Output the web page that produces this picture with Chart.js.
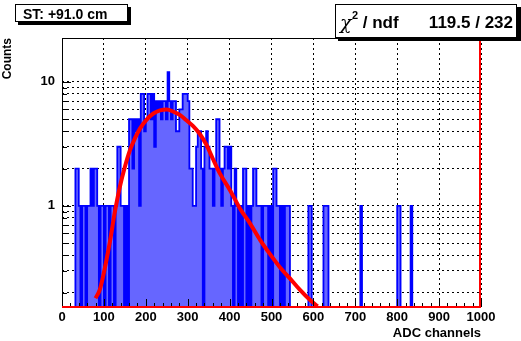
<!DOCTYPE html>
<html>
<head>
<meta charset="utf-8">
<script src="https://cdn.jsdelivr.net/npm/chart.js@4/dist/chart.umd.min.js"></script>
<style>
  html, body { margin: 0; padding: 0; background: #fff; }
</style>
</head>
<body>
<canvas id="c" width="521" height="341"></canvas>
<script>
// histogram: 250 bins of 4 ADC channels, 0..1000
const binWidth = 4;
const counts = [
  0, 0, 0, 0, 0, 0, 0, 0, 2, 2,
  1, 0, 1, 1, 0, 1, 1, 2, 1, 2,
  2, 1, 0, 1, 1, 0, 1, 1, 0, 1,
  1, 0, 1, 3, 3, 1, 1, 0, 1, 0,
  5, 5, 2, 5, 4, 5, 1, 8, 8, 4,
  5, 8, 8, 5, 8, 3, 7, 6, 7, 5,
  7, 7, 5, 12, 7, 5, 7, 7, 4, 4,
  6, 6, 8, 8, 8, 7, 2, 2, 1, 1,
  3, 4, 4, 2, 0, 3, 4, 3, 2, 2,
  1, 2, 5, 5, 2, 1, 2, 3, 3, 2,
  3, 1, 0, 2, 1, 0, 1, 0, 2, 2,
  0, 1, 0, 1, 2, 2, 1, 1, 1, 0,
  1, 1, 1, 0, 1, 0, 2, 2, 1, 1,
  0, 1, 0, 1, 1, 1, 0, 0, 0, 0,
  0, 0, 0, 0, 0, 0, 0, 1, 1, 0,
  0, 0, 0, 0, 0, 0, 1, 1, 1, 0,
  0, 0, 0, 0, 0, 0, 0, 0, 0, 0,
  0, 0, 0, 0, 0, 0, 0, 0, 1, 0,
  0, 0, 0, 0, 0, 0, 0, 0, 0, 0,
  0, 0, 0, 0, 0, 0, 0, 0, 0, 0,
  1, 1, 0, 0, 0, 0, 0, 0, 1, 0,
  0, 0, 0, 0, 0, 0, 0, 0, 0, 0,
  0, 0, 0, 0, 0, 0, 0, 0, 0, 0,
  0, 0, 0, 0, 0, 0, 0, 0, 0, 0,
  0, 0, 0, 0, 0, 0, 0, 0, 0, 0
];

// fitted curve
const fitX = [80, 90, 100, 115, 125, 138, 150, 162, 174, 186, 202, 218, 234, 250, 266, 282, 297, 313, 329, 345, 360, 377, 401, 425, 449, 473, 496, 520, 544, 568, 592, 610];
const fitY = [0.18, 0.21, 0.29, 0.53, 0.85, 1.42, 2.06, 2.8, 3.5, 4.2, 4.97, 5.56, 5.9, 6.0, 5.75, 5.4, 4.9, 4.4, 3.8, 3.1, 2.4, 1.82, 1.34, 0.95, 0.72, 0.53, 0.41, 0.32, 0.26, 0.21, 0.174, 0.155];

const xTickValues = [0, 100, 200, 300, 400, 500, 600, 700, 800, 900, 1000];
const yGridValues = [0.2, 0.3, 0.4, 0.5, 0.6, 0.7, 0.8, 0.9, 1, 2, 3, 4, 5, 6, 7, 8, 9, 10];
const yLabelValues = [1, 10];
const yMin = 0.153, yMax = 22.6;

const statLabel = "ST: +91.0 cm";
const chi2Value = "119.5 / 232";

// empty bins can't sit on a log axis, drop them just under the frame
const histPoints = counts.map((c, i) => ({ x: i * binWidth, y: c > 0 ? c : yMin * 0.8 }));
histPoints.push({ x: counts.length * binWidth, y: histPoints[histPoints.length - 1].y });
const fitPoints = fitX.map((x, i) => ({ x: x, y: fitY[i] }));

const boldFont = "'Liberation Sans', Arial, sans-serif";

const rootFrame = {
  id: "rootFrame",
  afterDraw(chart) {
    const ctx = chart.ctx;
    const a = chart.chartArea;
    const xs = chart.scales.x, ys = chart.scales.y;
    ctx.save();
    // tick marks inside the frame
    ctx.strokeStyle = "#000";
    ctx.lineWidth = 1;
    ctx.beginPath();
    for (let v = 0; v <= 1000; v += 20) {
      const px = Math.round(xs.getPixelForValue(v)) + 0.5;
      const len = v % 100 === 0 ? 8 : 4;
      ctx.moveTo(px, a.bottom);
      ctx.lineTo(px, a.bottom - len);
    }
    yGridValues.forEach(v => {
      const py = Math.round(ys.getPixelForValue(v)) + 0.5;
      const len = yLabelValues.includes(v) ? 9 : 5;
      ctx.moveTo(a.left, py);
      ctx.lineTo(a.left + len, py);
    });
    ctx.stroke();
    // frame
    ctx.beginPath();
    ctx.moveTo(a.left + 0.5, a.bottom);
    ctx.lineTo(a.left + 0.5, a.top + 0.5);
    ctx.lineTo(a.right, a.top + 0.5);
    ctx.stroke();
    ctx.strokeStyle = "#ff0000";
    ctx.lineWidth = 2;
    ctx.beginPath();
    ctx.moveTo(a.left, a.bottom);
    ctx.lineTo(a.right - 1, a.bottom);
    ctx.lineTo(a.right - 1, a.top);
    ctx.stroke();

    // stat boxes
    ctx.fillStyle = "#000";
    ctx.fillRect(18, 7, 113, 18);
    ctx.fillStyle = "#fff";
    ctx.fillRect(15, 4, 113, 18);
    ctx.strokeStyle = "#000";
    ctx.lineWidth = 1;
    ctx.strokeRect(15.5, 4.5, 112, 17);
    ctx.fillStyle = "#000";
    ctx.font = "bold 14px " + boldFont;
    ctx.textBaseline = "alphabetic";
    ctx.textAlign = "left";
    ctx.fillText(statLabel, 23, 19);

    ctx.fillStyle = "#000";
    ctx.fillRect(338, 7, 183, 34);
    ctx.fillStyle = "#fff";
    ctx.fillRect(335, 4, 182, 34);
    ctx.strokeRect(335.5, 4.5, 181, 33);
    ctx.fillStyle = "#000";
    ctx.font = "italic 19px 'DejaVu Serif', 'Liberation Serif', serif";
    ctx.fillText("\u03c7", 340, 29);
    ctx.font = "bold 11px " + boldFont;
    ctx.fillText("2", 352, 19);
    ctx.font = "bold 17px " + boldFont;
    ctx.fillText(" / ndf", 358, 28);
    ctx.textAlign = "right";
    ctx.fillText(chi2Value, 513, 28);
    ctx.restore();
  }
};

new Chart(document.getElementById("c"), {
  type: "line",
  data: {
    datasets: [
      {
        label: "fit",
        data: fitPoints,
        borderColor: "#ff0000",
        borderWidth: 4,
        pointRadius: 0,
        tension: 0.4,
        cubicInterpolationMode: "monotone",
        fill: false,
        order: 0
      },
      {
        label: "hist",
        data: histPoints,
        stepped: true,
        borderColor: "#0000ff",
        borderWidth: 1.8,
        backgroundColor: "#6666ff",
        pointRadius: 0,
        fill: "start",
        order: 1
      }
    ]
  },
  options: {
    responsive: false,
    animation: false,
    devicePixelRatio: 1,
    layout: { padding: { left: 0, right: 40, top: 38, bottom: 0 } },
    plugins: { legend: { display: false }, tooltip: { enabled: false } },
    scales: {
      x: {
        type: "linear",
        min: 0,
        max: 1000,
        afterBuildTicks: s => { s.ticks = xTickValues.map(v => ({ value: v })); },
        afterFit: s => { s.height = 34; },
        ticks: { autoSkip: false, maxRotation: 0, padding: 3, color: "#000", font: { family: boldFont, size: 13, weight: "bold" }, callback: v => String(v) },
        grid: { color: "#000", lineWidth: 1, drawTicks: false },
        border: { display: false, dash: [2, 3] },
        title: { display: true, text: "ADC channels", align: "end", color: "#000", padding: 0, font: { family: boldFont, size: 13, weight: "bold" } }
      },
      y: {
        type: "logarithmic",
        min: yMin,
        max: yMax,
        afterBuildTicks: s => { s.ticks = yGridValues.map(v => ({ value: v })); },
        afterFit: s => { s.width = 62; },
        ticks: {
          autoSkip: false,
          padding: 7,
          color: "#000",
          font: { family: boldFont, size: 13, weight: "bold" },
          callback: v => (yLabelValues.includes(v) ? String(v) : "")
        },
        grid: { color: "#000", lineWidth: 1, drawTicks: false },
        border: { display: false, dash: [2, 3] },
        title: { display: true, text: "Counts", align: "end", color: "#000", padding: 0, font: { family: boldFont, size: 12, weight: "bold" } }
      }
    }
  },
  plugins: [rootFrame]
});
</script>
</body>
</html>
